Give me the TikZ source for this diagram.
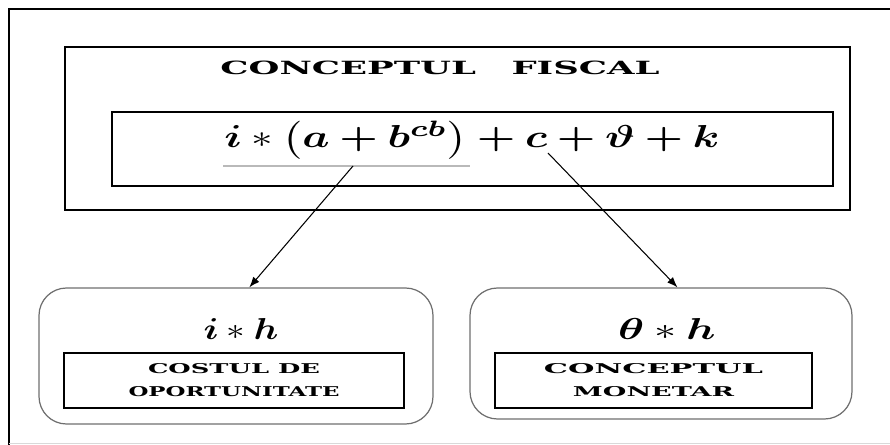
\documentclass[tikz,border=0pt]{standalone}
\usepackage{amsmath, amssymb}
\usepackage{bm}
\usepackage{graphicx}
\usepackage{xcolor}
\usepackage{fontspec}
\newfontfamily\labelfont{DejaVu Serif}
\usetikzlibrary{arrows, arrows.meta, positioning, calc}
\definecolor{FrameGray}{RGB}{110,110,110}
\tikzset{
  >=latex,  % default arrow tip
  % boxes
  box/.style={draw,line width=0.9pt,inner sep=0pt,align=center},
  round box/.style={draw=FrameGray,line width=0.7pt,rounded corners=0.55cm,inner sep=0pt},
  % connectors
  connect arrow/.style={-{Latex[length=6,width=4.5]},line width=0.6pt,black},
  under line/.style={gray!55,line width=0.6pt}
}

\begin{document}
\begin{tikzpicture}
    \useasboundingbox (0,0) rectangle (17.8,-8.9);
    % page frame
    \draw[line width=1.2pt] (17.8,-0.18) -- (0.18,-0.18) -- (0.18,-8.9);
    \draw[gray!30] (0.18,-8.86) -- (17.8,-8.86);
    % fiscal concept
    \node[box,minimum width=15.7cm,minimum height=3.26cm] (fiscal) at (9.15,-2.57) {};
    \node (title) at (8.8,-1.36) {\resizebox{8.78cm}{0.27cm}{\labelfont\bfseries CONCEPTUL\quad FISCAL}};
    \node[box,minimum width=14.42cm,minimum height=1.48cm] (exprbox) at (9.45,-2.98) {};
    \node[anchor=base] (expr) at (9.44,-2.96)
      {\resizebox{9.9cm}{0.54cm}{$\bm{i} * \bigl(\bm{a} \bm{+} \bm{b}^{\bm{cb}}\bigr) \bm{+} \bm{c} \bm{+} \bm{\vartheta} \bm{+} \bm{k}$}};
    \draw[under line] (4.46,-3.32) -- (9.4,-3.32);
    \coordinate (ia) at (7.06,-3.32);
    \coordinate (ic) at (10.96,-3.06);
    % opportunity cost
    \node[round box,minimum width=7.88cm,minimum height=2.72cm] (lbox) at (4.72,-7.12) {};
    \node (ih) at (4.82,-6.58) {\resizebox{1.5cm}{0.42cm}{$\bm{i} * \bm{h}$}};
    \node[box,minimum width=6.8cm,minimum height=1.1cm] (cost) at (4.68,-7.61)
      {\resizebox{3.44cm}{0.2cm}{\labelfont\bfseries COSTUL DE}\\[1pt]\resizebox{4.22cm}{0.2cm}{\labelfont\bfseries OPORTUNITATE}};
    % monetary concept
    \node[round box,minimum width=7.64cm,minimum height=2.62cm] (rbox) at (13.22,-7.07) {};
    \node (th) at (13.34,-6.58) {\resizebox{1.95cm}{0.42cm}{$\bm{\theta} * \bm{h}$}};
    \node[box,minimum width=6.34cm,minimum height=1.1cm] (monetar) at (13.07,-7.61)
      {\resizebox{4.38cm}{0.2cm}{\labelfont\bfseries CONCEPTUL}\\[1pt]\resizebox{3.22cm}{0.2cm}{\labelfont\bfseries MONETAR}};
    % arrows
    \draw[connect arrow] (ia) -- (lbox.79);
    \draw[connect arrow] (ic) -- (rbox.76);
\end{tikzpicture}
\end{document}
